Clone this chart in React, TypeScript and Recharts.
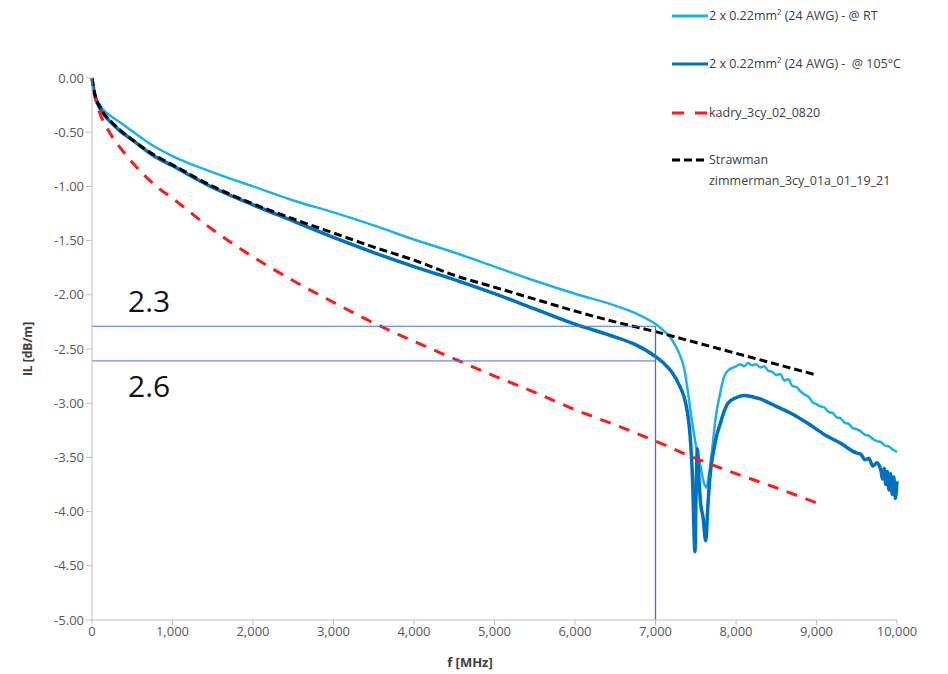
import { Line, LineChart, ReferenceLine, XAxis, YAxis } from "recharts";

// IL vs frequency
const rtFreq = [0, 20, 50, 100, 150, 250, 350, 500, 750, 1000, 1500, 2000, 2500, 3000, 3500, 4000, 4500, 5000, 5500, 6000, 6500, 6750, 7000, 7100, 7200, 7300, 7350, 7400, 7450, 7500, 7550, 7600, 7630, 7660, 7700, 7750, 7800, 7850, 7900, 8000, 8050, 8100, 8150, 8200, 8250, 8300, 8350, 8400, 8450, 8500, 8550, 8600, 8650, 8700, 8750, 8800, 8850, 8900, 8950, 9000, 9050, 9100, 9150, 9200, 9250, 9300, 9350, 9400, 9450, 9500, 9550, 9600, 9650, 9700, 9750, 9800, 9850, 9900, 9950, 10000];
const rtIL = [-0.02, -0.1, -0.18, -0.25, -0.3, -0.36, -0.41, -0.49, -0.62, -0.72, -0.87, -1.0, -1.13, -1.24, -1.36, -1.49, -1.61, -1.74, -1.87, -1.99, -2.1, -2.17, -2.27, -2.33, -2.41, -2.55, -2.66, -2.88, -3.15, -3.38, -3.55, -3.73, -3.78, -3.68, -3.45, -3.12, -2.92, -2.76, -2.7, -2.66, -2.64, -2.66, -2.63, -2.65, -2.64, -2.67, -2.66, -2.7, -2.71, -2.74, -2.73, -2.79, -2.78, -2.84, -2.85, -2.89, -2.92, -2.94, -2.99, -3.01, -3.03, -3.04, -3.08, -3.09, -3.13, -3.14, -3.18, -3.19, -3.23, -3.24, -3.26, -3.29, -3.3, -3.33, -3.35, -3.36, -3.39, -3.4, -3.43, -3.45];

const hotFreq = [0, 20, 50, 100, 150, 250, 350, 500, 750, 1000, 1500, 2000, 2500, 3000, 3500, 4000, 4500, 5000, 5500, 6000, 6500, 6750, 7000, 7100, 7200, 7300, 7350, 7400, 7430, 7460, 7490, 7505, 7520, 7540, 7560, 7590, 7625, 7650, 7680, 7720, 7760, 7800, 7850, 7900, 8000, 8100, 8200, 8300, 8500, 8700, 8900, 9100, 9300, 9500, 9550, 9600, 9650, 9700, 9750, 9800, 9820, 9840, 9860, 9880, 9900, 9920, 9940, 9960, 9980, 10000];
const hotIL = [0.0, -0.1, -0.2, -0.28, -0.34, -0.42, -0.49, -0.57, -0.71, -0.81, -1.01, -1.17, -1.32, -1.47, -1.61, -1.74, -1.86, -1.99, -2.13, -2.27, -2.39, -2.46, -2.57, -2.63, -2.71, -2.84, -2.93, -3.1, -3.3, -3.7, -4.37, -3.8, -3.42, -3.7, -3.92, -4.05, -4.27, -3.95, -3.65, -3.45, -3.3, -3.2, -3.08, -3.0, -2.95, -2.93, -2.94, -2.96, -3.03, -3.1, -3.19, -3.29, -3.37, -3.46, -3.47, -3.52, -3.51, -3.58, -3.55, -3.62, -3.7, -3.6, -3.75, -3.63, -3.8, -3.65, -3.84, -3.68, -3.88, -3.72];

const kadryFreq = [20, 100, 200, 400, 600, 800, 1000, 1500, 2000, 2500, 3000, 3500, 4000, 4500, 5000, 5500, 6000, 6500, 7000, 7500, 8000, 8500, 9000];
const kadryIL = [-0.12, -0.33, -0.48, -0.69, -0.86, -1.0, -1.11, -1.4, -1.65, -1.87, -2.07, -2.26, -2.43, -2.59, -2.75, -2.9, -3.06, -3.2, -3.35, -3.51, -3.65, -3.78, -3.92];

const strawFreq = [0, 20, 50, 100, 150, 250, 350, 500, 750, 1000, 1500, 2000, 2500, 3000, 3500, 4000, 4500, 5000, 5500, 6000, 6500, 7000, 7500, 8000, 8500, 9000];
const strawIL = [0.0, -0.1, -0.19, -0.27, -0.33, -0.41, -0.48, -0.57, -0.7, -0.8, -1.0, -1.16, -1.3, -1.43, -1.56, -1.68, -1.82, -1.93, -2.04, -2.15, -2.25, -2.34, -2.44, -2.54, -2.64, -2.74];

const xTicks = [0, 1000, 2000, 3000, 4000, 5000, 6000, 7000, 8000, 9000, 10000];
const yTicks = [0, -0.5, -1, -1.5, -2, -2.5, -3, -3.5, -4, -4.5, -5];

// marker lines drawn on the chart
const markFreq = 7000;
const markHigh = -2.29;
const markLow = -2.61;

const series = [
  { name: "2 x 0.22mm² (24 AWG) - @ RT", freq: rtFreq, il: rtIL, color: "#1cb0ec", width: 2.5, dash: undefined },
  { name: "2 x 0.22mm² (24 AWG) -  @ 105°C", freq: hotFreq, il: hotIL, color: "#0070c0", width: 3.5, dash: undefined },
  { name: "kadry_3cy_02_0820", freq: kadryFreq, il: kadryIL, color: "#ff1a1a", width: 3, dash: "11 9" },
  { name: "Strawman\nzimmerman_3cy_01a_01_19_21", freq: strawFreq, il: strawIL, color: "#000000", width: 3, dash: "8 4" }
];

const font = "'Open Sans', sans-serif";
const fmtX = (v: number) => v.toLocaleString("en-US");

function LegendBox() {
  const rows = [16, 64, 113, 160];
  return (
    <svg width={290} height={200} style={{ position: "absolute", left: 660, top: 0 }}>
      {series.map((s, i) => {
        const y = rows[i];
        const lines = s.name.split("\n");
        return (
          <g key={s.name}>
            <line x1={12} x2={48} y1={y} y2={y} stroke={s.color} strokeWidth={3} strokeDasharray={i === 2 ? "12 11" : i === 3 ? "8 4" : undefined} />
            {lines.map((t, j) => (
              <text key={j} x={49} y={y + 4 + j * 21} fontSize={12.5} fill="#404040" fontFamily={font} style={{ whiteSpace: "pre" }}>
                {t}
              </text>
            ))}
          </g>
        );
      })}
    </svg>
  );
}

function MarkLabel(props: any) {
  const { viewBox, text, dy } = props;
  return (
    <text x={viewBox.x + 36} y={viewBox.y + dy} fontSize={30} fill="#111" fontFamily={font}>
      {text}
    </text>
  );
}

export default function App() {
  return (
    <div style={{ position: "absolute", left: 0, top: 0, width: 948, height: 674, background: "#fff" }}>
      <LineChart width={948} height={674} margin={{ top: 78, right: 51, bottom: 24, left: 0 }}>
        <XAxis
          type="number"
          dataKey="f"
          domain={[0, 10000]}
          ticks={xTicks}
          tickFormatter={fmtX}
          stroke="#bfbfbf"
          tickSize={5}
          height={30}
          tick={{ fill: "#595959", fontSize: 13, fontFamily: font }}
          label={() => (
            <text x={470} y={667} textAnchor="middle" fontSize={13} fontWeight="bold" fill="#404040" fontFamily={font}>
              f [MHz]
            </text>
          )}
        />
        <YAxis
          type="number"
          dataKey="v"
          domain={[-5, 0]}
          ticks={yTicks}
          tickFormatter={(v: number) => v.toFixed(2)}
          width={92}
          stroke="#bfbfbf"
          tickSize={6}
          tick={{ fill: "#595959", fontSize: 13, fontFamily: font }}
          label={() => (
            <text x={27} y={349} transform="rotate(-90 27 349)" textAnchor="middle" dominantBaseline="central" fontSize={12} fontWeight="bold" fill="#404040" fontFamily={font}>
              IL [dB/m]
            </text>
          )}
        />
        {series.map(s => (
          <Line
            key={s.name}
            data={s.freq.map((f, i) => ({ f, v: s.il[i] }))}
            dataKey="v"
            name={s.name}
            type="monotone"
            stroke={s.color}
            strokeWidth={s.width}
            strokeDasharray={s.dash}
            dot={false}
            isAnimationActive={false}
          />
        ))}
        <ReferenceLine
          segment={[{ x: 0, y: markHigh }, { x: markFreq, y: markHigh }]}
          stroke="#4472c4"
          strokeWidth={1}
          label={<MarkLabel text="2.3" dy={-14} />}
        />
        <ReferenceLine
          segment={[{ x: 0, y: markLow }, { x: markFreq, y: markLow }]}
          stroke="#4472c4"
          strokeWidth={1}
          label={<MarkLabel text="2.6" dy={36} />}
        />
        <ReferenceLine segment={[{ x: markFreq, y: markHigh }, { x: markFreq, y: -5 }]} stroke="#4472c4" strokeWidth={1.3} />
      </LineChart>
      <LegendBox />
    </div>
  );
}
